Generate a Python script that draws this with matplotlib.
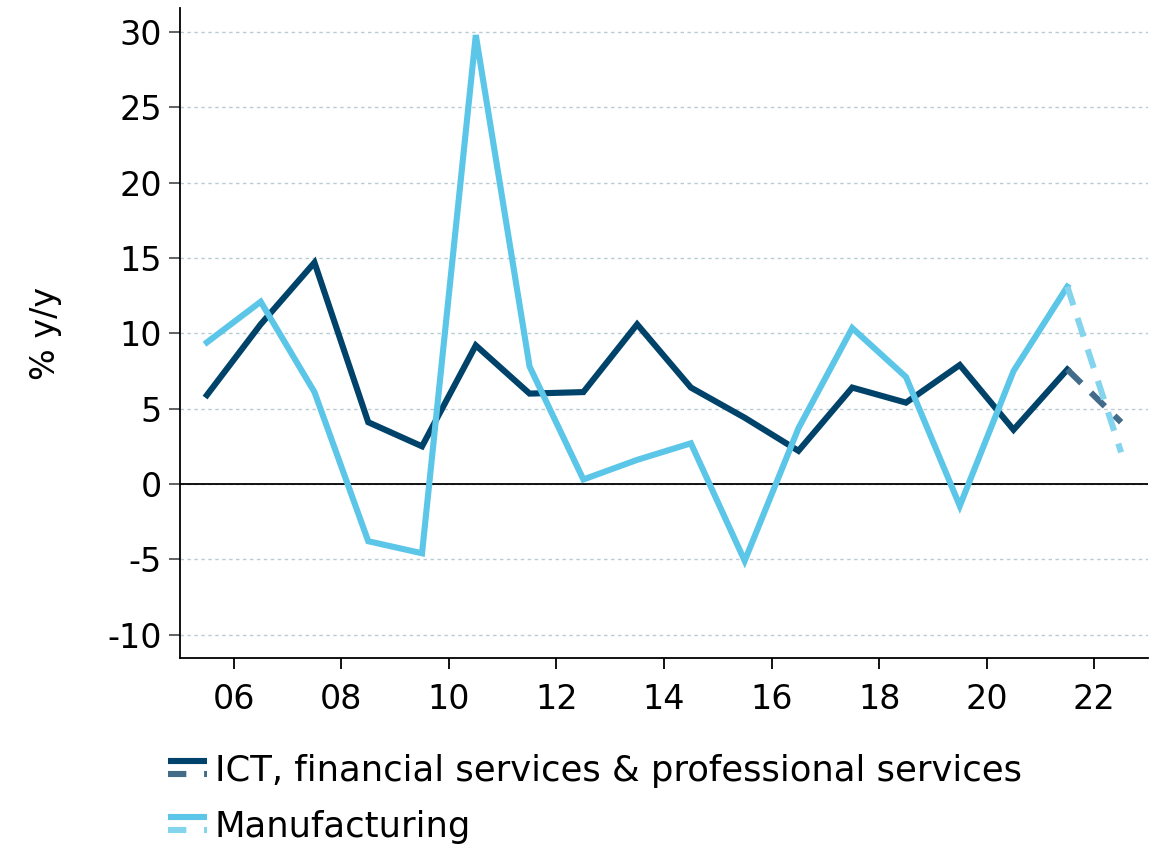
import matplotlib
matplotlib.use('Agg')
import matplotlib.pyplot as plt
from matplotlib.lines import Line2D
from matplotlib.legend_handler import HandlerBase

# data: annual % y/y, last point is a forecast (dashed)
years = [2005.5, 2006.5, 2007.5, 2008.5, 2009.5, 2010.5, 2011.5, 2012.5, 2013.5,
         2014.5, 2015.5, 2016.5, 2017.5, 2018.5, 2019.5, 2020.5, 2021.5, 2022.5]
ict = [5.9, 10.6, 14.7, 4.1, 2.5, 9.2, 6.0, 6.1, 10.6,
       6.4, 4.4, 2.2, 6.4, 5.4, 7.9, 3.6, 7.6, 4.1]
manufacturing = [9.4, 12.1, 6.1, -3.8, -4.6, 29.8, 7.8, 0.3, 1.6,
                 2.7, -5.1, 3.7, 10.35, 7.1, -1.45, 7.5, 13.1, 2.1]
n_actual = 17  # points before the forecast segment

xticks = [2006, 2008, 2010, 2012, 2014, 2016, 2018, 2020, 2022]
xticklabels = ['06', '08', '10', '12', '14', '16', '18', '20', '22']
yticks = [-10, -5, 0, 5, 10, 15, 20, 25, 30]
yticklabels = ['-10', '-5', '0', '5', '10', '15', '20', '25', '30']

DARK = '#00436a'
DARK_FC = '#436c8a'
LIGHT = '#5bc6e8'
LIGHT_FC = '#85d4ee'
LW = 4.4
DASHES = (3.2, 2.2)
FS = 24


class SolidDashHandler(HandlerBase):
    """legend key: solid line on top, dashed line just below"""
    def __init__(self, solid, dashed):
        super().__init__()
        self.solid = solid
        self.dashed = dashed

    def create_artists(self, legend, orig_handle, xdescent, ydescent,
                       width, height, fontsize, trans):
        y1 = height * 0.80
        y2 = height * 0.28
        l1 = Line2D([-xdescent, width - xdescent], [y1, y1], color=self.solid,
                    lw=LW, solid_capstyle='butt', transform=trans)
        l2 = Line2D([-xdescent, width - xdescent], [y2, y2], color=self.dashed,
                    lw=LW, dashes=(3.0, 2.9), dash_capstyle='butt', transform=trans)
        return [l1, l2]


plt.rcParams['font.family'] = 'DejaVu Sans'
fig = plt.figure(figsize=(11.63, 8.48), dpi=100)
ax = fig.add_axes([0.1548, 0.2241, 0.8323, 0.7665])

ax.plot(years[:n_actual], ict[:n_actual], color=DARK, lw=LW, solid_joinstyle='miter', zorder=3)
ax.plot(years[n_actual - 1:], ict[n_actual - 1:], color=DARK_FC, lw=LW, dashes=DASHES, zorder=3)
ax.plot(years[:n_actual], manufacturing[:n_actual], color=LIGHT, lw=LW, solid_joinstyle='miter', zorder=3)
ax.plot(years[n_actual - 1:], manufacturing[n_actual - 1:], color=LIGHT_FC, lw=LW, dashes=DASHES, zorder=3)

ax.axhline(0, color='black', lw=1.3, zorder=2)

ax.set_xlim(2005, 2023)
ax.set_ylim(-11.55, 31.6)
ax.set_xticks(xticks)
ax.set_xticklabels(xticklabels)
ax.set_yticks(yticks)
ax.set_yticklabels(yticklabels)

ax.tick_params(axis='both', labelsize=FS, length=8, width=1.3, direction='out')
ax.tick_params(axis='y', color='#555555', pad=5)
ax.tick_params(axis='x', pad=10)
for s in ['top', 'right']:
    ax.spines[s].set_visible(False)
for s in ['left', 'bottom']:
    ax.spines[s].set_linewidth(1.3)

ax.yaxis.grid(True, color='#b9ccd6', lw=1.0, linestyle=(0, (2.5, 2.5)))
ax.set_axisbelow(True)

ax.set_ylabel('% y/y', fontsize=FS, labelpad=33)

h1 = Line2D([], [], color=DARK)
h2 = Line2D([], [], color=LIGHT)
fig.legend([h1, h2],
           ['ICT, financial services & professional services', 'Manufacturing'],
           handler_map={h1: SolidDashHandler(DARK, DARK_FC), h2: SolidDashHandler(LIGHT, LIGHT_FC)},
           loc='upper left', bbox_to_anchor=(0.1445, 0.111), frameon=False,
           fontsize=25.5, handlelength=1.1, handletextpad=0.22, labelspacing=0.62,
           borderpad=0, borderaxespad=0)

fig.savefig('out.png', dpi=100)
